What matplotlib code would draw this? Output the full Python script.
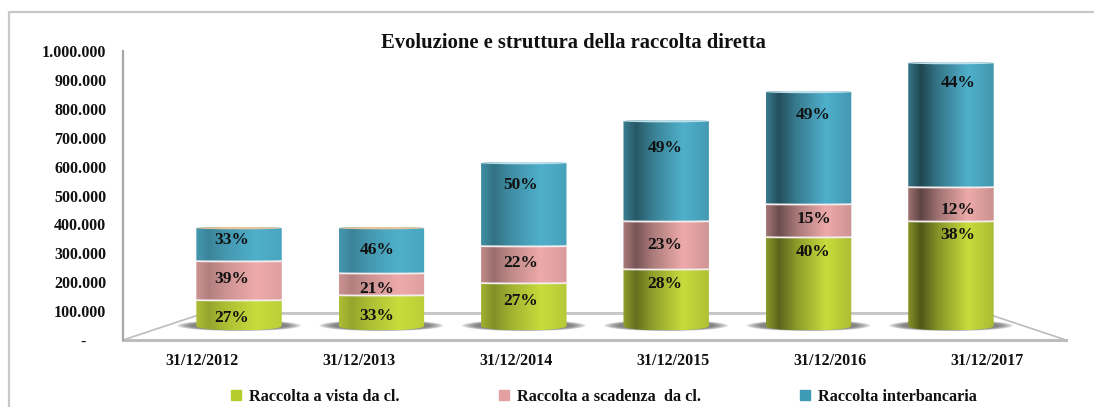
import numpy as np
import matplotlib
matplotlib.use('Agg')
import matplotlib.pyplot as plt
from matplotlib.patches import Ellipse, Patch, Polygon

plt.rcParams['font.family'] = ['Liberation Serif', 'DejaVu Serif']
plt.rcParams['font.weight'] = 'bold'

dates = ['31/12/2012', '31/12/2013', '31/12/2014', '31/12/2015', '31/12/2016', '31/12/2017']
series_names = ['Raccolta a vista da cl.', 'Raccolta a scadenza  da cl.', 'Raccolta interbancaria']
# values
vista = [90000, 107000, 149000, 197000, 308000, 363000]
scadenza = [135000, 76000, 128000, 166000, 114000, 118000]
interbancaria = [114000, 156000, 287000, 346000, 388000, 429000]
pct_vista = ['27%', '33%', '27%', '28%', '40%', '38%']
pct_scadenza = ['39%', '21%', '22%', '23%', '15%', '12%']
pct_inter = ['33%', '46%', '50%', '49%', '49%', '44%']
# where the percent labels sit, they are not centred on the segments
label_y_vista = [77000, 84000, 136000, 195000, 305000, 364000]
label_y_scadenza = [212000, 177000, 267000, 330000, 420000, 451000]
label_y_inter = [347000, 312000, 537000, 665000, 779000, 890000]
label_dx = [-0.05, -0.03, -0.02, -0.01, 0.035, 0.05]

W, H = 1094, 407
base = 48000   # 3d floor offset of the bars
bar_w = 0.6
curve_bottom = 15000
curve_top = 4000
shades = [0.25, 0.25, 0.35, 0.5, 0.55, 0.6]

light = ['#c8dc3c', '#eeaaaa', '#4fb0cc']
legend_cols = ['#b4cc2c', '#e2a0a0', '#3f9ab5']
caps = ['#e8c49a', '#e8c49a', '#bfe0ea', '#bfe0ea', '#bfe0ea', '#bfe0ea']


def gradient(color, shade):
    rgb = np.array(matplotlib.colors.to_rgb(color))
    u = np.linspace(0, 1, 256)
    dip = np.interp(u, [0, 0.15, 0.35, 0.7, 1], [0.55, 1, 0.55, 0, 0.25])
    return (1 - shade * dip)[None, :, None] * rgb


def draw_segment(ax, x, lo, hi, color, shade, round_bottom, round_top, z):
    u = np.linspace(-1, 1, 60)
    xs = x + u * bar_w / 2
    arc = np.sqrt(1 - u ** 2)
    low = lo - arc * (curve_bottom if round_bottom else curve_top * 0.3)
    up = hi + arc * (curve_top if round_top else curve_top * 0.3)
    verts = np.r_[np.c_[xs, low], np.c_[xs[::-1], up[::-1]]]
    im = ax.imshow(gradient(color, shade), extent=(xs[0], xs[-1], low.min(), up.max()),
                   aspect='auto', zorder=z, interpolation='bilinear')
    clip = Polygon(verts, transform=ax.transData, fc='none', ec='none')
    ax.add_patch(clip)
    im.set_clip_path(clip)
    if not round_bottom:
        ax.plot(xs, low, color='#f4eeee', lw=1.3, zorder=z + 1)


fig = plt.figure(figsize=(W / 100, H / 100), dpi=100)
ax = fig.add_axes([123 / W, 1 - 340 / H, 943 / W, 289 / H])

x = np.arange(len(dates))
xlim = (-0.815, 5.808)

# frame round the chart
fig.add_artist(plt.Line2D([9 / W, 9 / W, 1], [0, 1 - 12 / H, 1 - 12 / H], color='#c8c8c8', lw=1.6))

# floor
floor_col = '#bdbdbd'
ax.plot([-0.815, -0.245, 5.24, 5.808], [0, 93000, 93000, 0], color=floor_col, lw=1.2, clip_on=False, zorder=1)
ax.plot([-0.245, 5.24], [93000, 93000], color='#c6c6c6', lw=2, zorder=1)
ax.plot([-0.815, 5.808], [0, 0], color=floor_col, lw=2.2, clip_on=False, zorder=1)
ax.plot([-0.815, -0.815], [0, 1000000], color='#a8a8a8', lw=1.6, clip_on=False, zorder=1)

for i in x:
    # soft shadow under the bar
    for grow in np.linspace(1, 0.78, 7):
        ax.add_patch(Ellipse((i, 50000), bar_w * 1.45 * grow, 38000 * grow,
                             fc='#555555', ec='none', alpha=0.16, zorder=2))
    b0 = base
    b1 = b0 + vista[i]
    b2 = b1 + scadenza[i]
    b3 = b2 + interbancaria[i]
    draw_segment(ax, i, b0, b1, light[0], shades[i], True, False, 3)
    draw_segment(ax, i, b1, b2, light[1], shades[i], False, False, 5)
    draw_segment(ax, i, b2, b3, light[2], shades[i], False, True, 7)
    ax.add_patch(Ellipse((i, b3), bar_w, curve_top * 2, fc=caps[i], ec='none', zorder=8))
    tx = i + label_dx[i]
    ax.text(tx, label_y_vista[i], pct_vista[i], ha='center', va='center', fontsize=12.5, color='#111111', zorder=10)
    ax.text(tx, label_y_scadenza[i], pct_scadenza[i], ha='center', va='center', fontsize=12.5, color='#111111', zorder=10)
    ax.text(tx, label_y_inter[i], pct_inter[i], ha='center', va='center', fontsize=12.5, color='#111111', zorder=10)

ax.set_xlim(*xlim)
ax.set_ylim(0, 1000000)
for s in ax.spines.values():
    s.set_visible(False)
ax.patch.set_alpha(0)

yt = np.arange(0, 1000001, 100000)
ylabels = [f'{v:,}'.replace(',', '.') for v in yt]
ylabels[0] = '-     '
ax.set_yticks(yt, ylabels)
ax.set_xticks(-0.26 + 1.1025 * x, dates)
ax.tick_params(axis='y', length=0, pad=12, labelsize=11.5, labelcolor='#111111')
ax.tick_params(axis='x', length=0, pad=9.5, labelsize=11.5, labelcolor='#111111')

fig.text(573 / W, 1 - 42.5 / H, 'Evoluzione e struttura della raccolta diretta', ha='center', va='center',
         fontsize=14.9, color='#111111')

handles = [Patch(color=c) for c in legend_cols]
fig.legend(handles, series_names, ncol=3, frameon=False, loc='center', bbox_to_anchor=(604 / W, 1 - 397 / H),
           fontsize=11.7, handlelength=0.6, handleheight=0.6, handletextpad=0.5, columnspacing=6.1,
           labelcolor='#111111')

fig.savefig('out.png', dpi=100)
